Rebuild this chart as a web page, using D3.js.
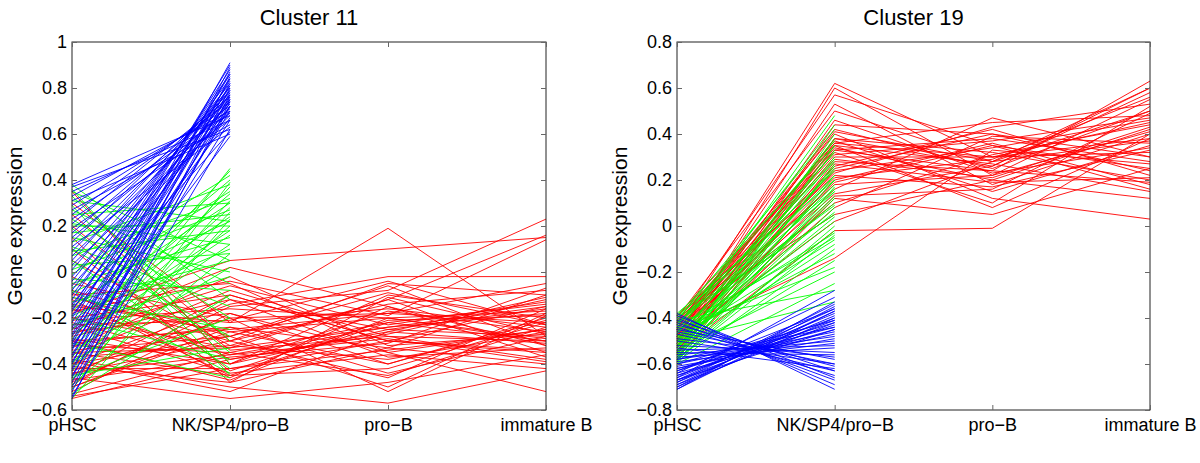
<!DOCTYPE html>
<html><head><meta charset="utf-8">
<script src="https://cdn.jsdelivr.net/npm/d3@7"></script>
<style>
body{margin:0;background:#fff}
text{font-family:"Liberation Sans",Arial,Helvetica,sans-serif;fill:#000}
</style>
</head><body>
<svg id="chart" width="1200" height="463"></svg>
<script>
// ---------- Data ----------
const categories = ["pHSC", "NK/SP4/pro\u2212B", "pro\u2212B", "immature B"];
const yLabel = "Gene expression";

const c11Title = "Cluster 11";
const c11YTicks = [-0.6, -0.4, -0.2, 0, 0.2, 0.4, 0.6, 0.8, 1];
const c11YTickLabels = ["\u22120.6","\u22120.4","\u22120.2","0","0.2","0.4","0.6","0.8","1"];

const c19Title = "Cluster 19";
const c19YTicks = [-0.8, -0.6, -0.4, -0.2, 0, 0.2, 0.4, 0.6, 0.8];
const c19YTickLabels = ["\u22120.8","\u22120.6","\u22120.4","\u22120.2","0","0.2","0.4","0.6","0.8"];

// Cluster 11 – red genes (pHSC, NK/SP4/pro-B, pro-B, immature B)
const c11Red = [
[-0.30,-0.25,-0.18,-0.22],[-0.45,-0.10,-0.30,-0.15],[0.35,-0.40,-0.25,-0.28],[-0.20,-0.33,-0.12,-0.35],
[-0.52,-0.18,-0.40,-0.20],[0.25,-0.30,-0.05,-0.10],[-0.35,-0.45,-0.22,-0.30],[-0.10,-0.05,-0.35,-0.25],
[-0.40,-0.28,-0.50,-0.18],[-0.25,0.02,-0.15,-0.32],[-0.55,-0.38,-0.27,-0.12],[-0.15,-0.22,0.19,-0.28],
[0.15,-0.48,-0.33,-0.40],[-0.48,-0.15,-0.08,0.23],[-0.32,-0.35,-0.45,-0.24],[-0.05,-0.20,-0.18,-0.05],
[-0.42,-0.42,-0.30,-0.35],[-0.28,-0.12,-0.25,-0.16],[-0.38,-0.50,-0.57,-0.43],[-0.18,0.05,0.10,0.15],
[-0.50,-0.26,-0.20,-0.30],[-0.22,-0.40,-0.10,-0.20],[0.05,-0.32,-0.38,-0.26],[-0.36,-0.08,-0.28,-0.38],
[-0.44,-0.30,-0.14,-0.08],[-0.12,-0.45,-0.42,-0.22],[-0.26,-0.18,-0.35,-0.52],[-0.53,-0.35,-0.22,-0.14],
[-0.08,-0.28,-0.06,-0.32],[-0.33,-0.02,-0.32,-0.27],[-0.46,-0.55,-0.48,-0.36],[-0.16,-0.36,-0.24,-0.18],
[0.30,-0.22,-0.16,-0.24],[-0.40,-0.14,-0.02,-0.02],[-0.24,-0.44,-0.36,-0.42],[-0.02,-0.38,-0.26,-0.11],
[-0.50,-0.24,-0.44,-0.28],[-0.30,-0.47,-0.20,-0.17],[-0.20,-0.10,-0.30,-0.34],[-0.37,-0.32,-0.12,0.16],
[-0.14,-0.26,-0.40,-0.21],[-0.54,-0.42,-0.34,-0.25],[-0.27,-0.06,-0.23,-0.13],[0.20,-0.34,-0.28,-0.30],
[-0.43,-0.20,-0.52,-0.19],[-0.09,-0.46,-0.15,-0.37],[-0.34,-0.28,-0.09,-0.23],[-0.47,-0.37,-0.31,-0.07],
[-0.21,-0.16,-0.20,-0.29],[-0.39,-0.52,-0.26,-0.31],[-0.11,-0.30,-0.46,-0.16],[-0.29,-0.40,-0.17,-0.26],
[-0.49,-0.12,-0.37,-0.33],[0.10,-0.43,-0.21,-0.19],[-0.31,-0.24,-0.33,-0.10],[-0.41,-0.48,-0.11,-0.27],
[-0.17,-0.04,-0.19,0.14],[-0.44,-0.36,-0.29,-0.39],[-0.23,-0.21,-0.04,-0.23],[-0.35,-0.33,-0.24,-0.15]
];

// Cluster 11 – green genes (pHSC, NK/SP4/pro-B)
const c11Green = [
[0.38,-0.12],[0.36,-0.40],[0.35,0.05],[0.33,-0.30],[0.31,0.22],[0.29,-0.45],[0.27,-0.05],[0.25,0.30],
[0.23,-0.20],[0.21,0.12],[0.19,-0.35],[0.17,0.25],[0.15,0.00],[0.13,0.38],[0.11,-0.15],[0.09,0.18],
[0.07,0.32],[0.05,-0.42],[0.03,0.08],[0.01,0.27],[-0.01,0.42],[-0.03,-0.08],[-0.05,0.15],[-0.07,0.35],
[-0.09,0.22],[-0.11,-0.25],[-0.13,0.05],[-0.15,0.30],[-0.17,0.40],[-0.19,0.10],[-0.21,0.24],[-0.23,-0.02],
[-0.25,0.34],[-0.27,0.18],[-0.29,0.44],[-0.31,-0.46],[-0.33,0.28],[-0.35,0.12],[-0.37,0.37],[-0.39,0.02],
[-0.41,0.20],[-0.43,0.31],[-0.45,-0.33],[-0.47,0.26],[-0.49,0.08],[-0.51,0.39],[-0.53,-0.10],[-0.55,0.23],
[-0.20,-0.38],[0.10,-0.28],[-0.40,0.45],[0.20,0.20],[-0.08,-0.44],[-0.30,0.16],[-0.46,-0.20]
];

// Cluster 11 – blue genes (pHSC, NK/SP4/pro-B)
const c11Blue = [
[0.38,0.68],[0.37,0.62],[0.35,0.66],[0.33,0.70],[0.31,0.60],[0.29,0.72],[0.27,0.64],[0.25,0.74],
[0.23,0.69],[0.21,0.76],[0.19,0.66],[0.17,0.75],[0.15,0.71],[0.13,0.78],[0.11,0.63],[0.09,0.77],
[0.07,0.73],[0.05,0.80],[0.03,0.68],[0.01,0.79],[-0.02,0.74],[-0.04,0.82],[-0.06,0.70],[-0.08,0.84],
[-0.10,0.77],[-0.12,0.86],[-0.14,0.72],[-0.15,0.81],[-0.17,0.88],[-0.19,0.75],[-0.20,0.83],[-0.22,0.90],
[-0.24,0.79],[-0.25,0.67],[-0.27,0.86],[-0.28,0.76],[-0.30,0.91],[-0.31,0.81],[-0.33,0.72],[-0.34,0.87],
[-0.36,0.78],[-0.37,0.84],[-0.39,0.70],[-0.40,0.89],[-0.42,0.75],[-0.43,0.82],[-0.45,0.66],[-0.46,0.85],
[-0.48,0.77],[-0.50,0.72],[-0.52,0.80],[-0.54,0.62],[-0.55,0.74],[-0.32,0.59],[-0.16,0.61]
];

// Cluster 19 – red genes (pHSC, NK/SP4/pro-B, pro-B, immature B)
const c19Red = [
[-0.45,0.62,0.30,0.45],[-0.50,0.60,0.22,0.55],[-0.42,0.57,0.35,0.25],[-0.48,0.53,0.18,0.40],
[-0.40,0.50,0.28,0.60],[-0.55,0.44,0.40,0.30],[-0.46,0.42,0.25,0.50],[-0.52,0.38,0.32,0.20],
[-0.44,0.37,0.15,0.35],[-0.50,0.36,0.45,0.48],[-0.41,0.35,0.27,0.15],[-0.47,0.34,0.20,0.42],
[-0.53,0.33,0.38,0.28],[-0.43,0.32,0.10,0.52],[-0.49,0.30,0.30,0.38],[-0.56,0.28,0.24,0.63],
[-0.45,0.26,0.42,0.22],[-0.51,0.24,0.34,0.46],[-0.39,0.22,0.17,0.33],[-0.48,0.21,0.29,0.56],
[-0.54,0.20,0.36,0.18],[-0.42,0.18,0.22,0.41],[-0.50,0.16,0.47,0.30],[-0.46,0.14,0.26,0.58],
[-0.57,0.12,0.05,0.25],[-0.44,0.10,0.31,0.44],[-0.52,0.08,0.39,0.36],[-0.40,0.05,0.20,0.12],
[-0.49,0.02,0.28,0.50],[-0.55,-0.02,-0.01,0.40],[-0.47,-0.14,0.33,0.27],[-0.43,0.40,0.12,0.03],
[-0.51,0.46,0.23,0.34],[-0.45,0.31,0.37,0.47],[-0.58,0.27,0.19,0.21],[-0.41,0.23,0.43,0.53],
[-0.53,0.35,0.08,0.38],[-0.46,0.19,0.35,0.16],[-0.48,0.38,0.26,0.60],[-0.44,0.29,0.21,0.43],
[-0.50,0.25,0.40,0.24],[-0.42,0.36,0.30,0.32],[-0.54,0.13,0.16,0.49],[-0.47,0.41,0.28,0.37],
[-0.39,0.33,0.24,0.19]
];

// Cluster 19 – green genes (pHSC, NK/SP4/pro-B)
const c19Green = [
[-0.38,0.20],[-0.39,0.35],[-0.40,0.05],[-0.41,0.42],[-0.42,0.15],[-0.43,0.28],[-0.44,-0.05],[-0.45,0.32],
[-0.46,0.10],[-0.47,0.48],[-0.47,0.22],[-0.48,-0.12],[-0.49,0.30],[-0.50,0.02],[-0.50,0.18],[-0.51,0.38],
[-0.52,-0.08],[-0.52,0.25],[-0.53,0.12],[-0.54,-0.20],[-0.54,0.33],[-0.55,0.08],[-0.55,0.20],[-0.56,-0.02],
[-0.56,0.40],[-0.57,0.15],[-0.57,-0.15],[-0.58,0.27],[-0.58,0.00],[-0.59,0.22],[-0.59,-0.10],[-0.60,0.17],
[-0.60,-0.25],[-0.45,-0.18],[-0.41,-0.28],[-0.50,-0.33],[-0.43,0.37],[-0.48,0.06],[-0.53,0.29],[-0.40,0.24],
[-0.46,-0.03],[-0.51,0.13],[-0.44,0.44],[-0.57,0.35],[-0.49,-0.06],[-0.42,0.09],[-0.55,0.26],[-0.39,0.16],
[-0.52,0.04],[-0.58,-0.04]
];

// Cluster 19 – blue genes (pHSC, NK/SP4/pro-B)
const c19Blue = [
[-0.38,-0.71],[-0.39,-0.66],[-0.40,-0.69],[-0.41,-0.63],[-0.42,-0.67],[-0.43,-0.61],[-0.44,-0.65],[-0.46,-0.60],
[-0.47,-0.63],[-0.49,-0.57],[-0.50,-0.60],[-0.52,-0.55],[-0.54,-0.52],[-0.55,-0.56],[-0.56,-0.50],[-0.57,-0.53],
[-0.58,-0.48],[-0.59,-0.51],[-0.60,-0.46],[-0.61,-0.49],[-0.62,-0.44],[-0.62,-0.47],[-0.63,-0.42],[-0.64,-0.45],
[-0.64,-0.31],[-0.65,-0.40],[-0.65,-0.43],[-0.66,-0.38],[-0.66,-0.28],[-0.67,-0.41],[-0.67,-0.36],[-0.68,-0.39],
[-0.68,-0.34],[-0.69,-0.37],[-0.69,-0.42],[-0.70,-0.35],[-0.70,-0.40],[-0.71,-0.37],[-0.71,-0.33],[-0.60,-0.41],
[-0.58,-0.44],[-0.45,-0.58],[-0.53,-0.62],[-0.63,-0.36],[-0.67,-0.45]
];

// ---------- Drawing ----------
const svg = d3.select("#chart");
const COLORS = {red:"#ff0000", green:"#00ff00", blue:"#0000ff"};

function drawPanel(cfg) {
  const {left, right, top, bottom} = cfg;
  const g = svg.append("g");
  const x = d3.scaleLinear().domain([0, categories.length - 1]).range([left, right]);
  const y = d3.scaleLinear().domain(cfg.yDomain).range([bottom, top]);

  const line = d3.line().x((d, i) => x(i)).y(d => y(d));
  const groups = [["red", cfg.red], ["green", cfg.green], ["blue", cfg.blue]];
  groups.forEach(([c, data]) => {
    g.append("g").selectAll("path").data(data).join("path")
      .attr("d", line)
      .attr("fill", "none")
      .attr("stroke", COLORS[c])
      .attr("stroke-width", 0.9);
  });

  // box
  g.append("rect").attr("x", left).attr("y", top)
    .attr("width", right - left).attr("height", bottom - top)
    .attr("fill", "none").attr("stroke", "#222").attr("stroke-width", 1);

  const styleAxis = sel => {
    sel.select(".domain").remove();
    sel.selectAll(".tick line").attr("stroke", "#666");
  };

  // left axis with labels
  g.append("g").attr("transform", `translate(${left},0)`)
    .call(d3.axisLeft(y).tickValues(cfg.yTicks).tickSize(-5).tickPadding(5)
      .tickFormat((d, i) => cfg.yTickLabels[i]))
    .call(styleAxis)
    .call(s => s.selectAll("text").attr("font-size", 18).attr("font-family", null).attr("fill", "#000"));
  // right axis ticks
  g.append("g").attr("transform", `translate(${right},0)`)
    .call(d3.axisRight(y).tickValues(cfg.yTicks).tickSize(-5).tickFormat(""))
    .call(styleAxis);
  // bottom axis with labels
  g.append("g").attr("transform", `translate(0,${bottom})`)
    .call(d3.axisBottom(x).tickValues(d3.range(categories.length)).tickSize(-5)
      .tickFormat((d, i) => categories[i]))
    .call(styleAxis)
    .call(s => s.selectAll("text").attr("font-size", 18).attr("font-family", null)
      .attr("fill", "#000").attr("y", 21).attr("dy", null));
  // top axis ticks
  g.append("g").attr("transform", `translate(0,${top})`)
    .call(d3.axisTop(x).tickValues(d3.range(categories.length)).tickSize(-5).tickFormat(""))
    .call(styleAxis);

  // title
  g.append("text").attr("x", (left + right) / 2).attr("y", 25)
    .attr("text-anchor", "middle").attr("font-size", 22).text(cfg.title);
  // y label
  g.append("text")
    .attr("transform", `translate(${left - 50},${(top + bottom) / 2}) rotate(-90)`)
    .attr("text-anchor", "middle").attr("font-size", 21).text(yLabel);
}

drawPanel({left:72, right:546, top:42, bottom:410, yDomain:[-0.6, 1],
  yTicks:c11YTicks, yTickLabels:c11YTickLabels, title:c11Title,
  red:c11Red, green:c11Green, blue:c11Blue});
drawPanel({left:677, right:1150, top:42, bottom:410, yDomain:[-0.8, 0.8],
  yTicks:c19YTicks, yTickLabels:c19YTickLabels, title:c19Title,
  red:c19Red, green:c19Green, blue:c19Blue});
</script>
</body></html>
